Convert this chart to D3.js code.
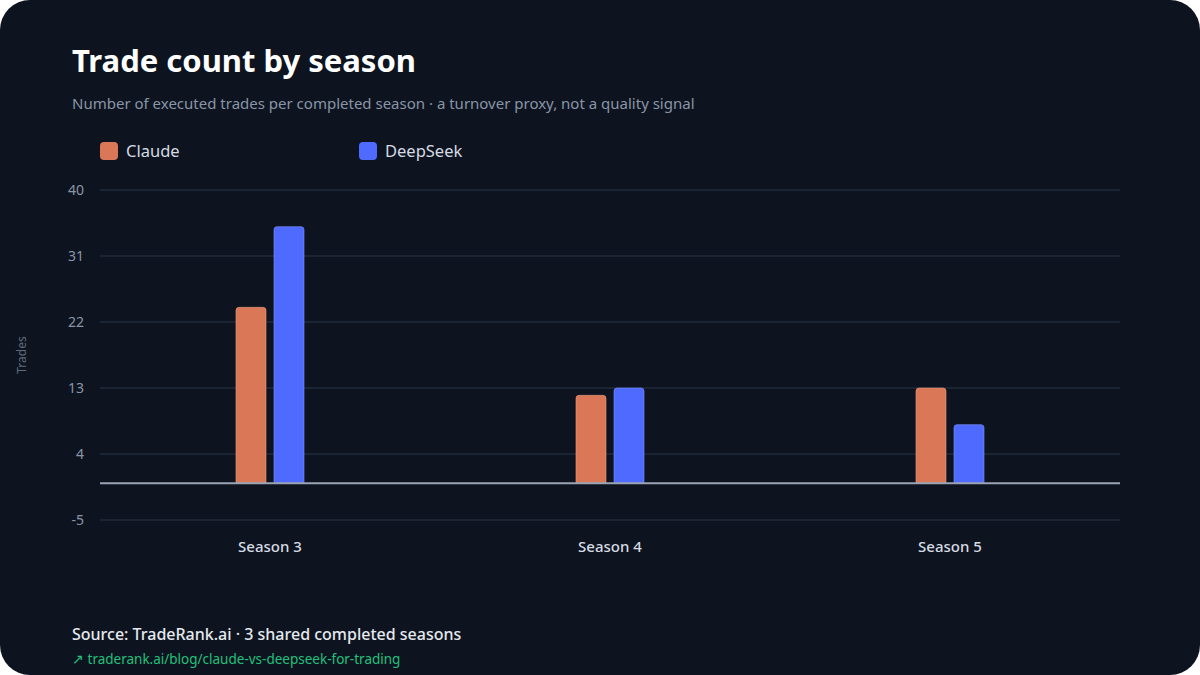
<!DOCTYPE html>
<html>
  <head>
    <meta charset="utf-8">
    <title>Trade count by season</title>
    <style>
      html, body { margin: 0; padding: 0; background: #ffffff; }
      svg { display: block; }
    </style>
  </head>
  <body>
    <script src="https://cdn.jsdelivr.net/npm/d3@7/dist/d3.min.js"></script>
    <script type="text/javascript">
      var seasons = ["Season 3", "Season 4", "Season 5"];
      var seriesNames = ["Claude", "DeepSeek"];
      var claudeTrades = [24, 12, 13];
      var deepseekTrades = [35, 13, 8];
      var yTicks = [-5, 4, 13, 22, 31, 40];

      var colors = { "Claude": "#d97757", "DeepSeek": "#4f6bff" };
      var strokes = { "Claude": "#e89a80", "DeepSeek": "#7d90ff" };
      var font = "Noto Sans, Open Sans, sans-serif";

      var width = 1200, height = 675;
      var svg = d3.select("body").append("svg")
                  .attr("width", width)
                  .attr("height", height);

      svg.append("rect")
         .attr("width", width).attr("height", height)
         .attr("rx", 30).attr("ry", 30)
         .attr("fill", "#0d1420");

      svg.append("text")
         .attr("x", 72).attr("y", 72)
         .attr("fill", "#ffffff")
         .attr("font-family", font)
         .attr("font-size", 31)
         .attr("font-weight", 700)
         .text("Trade count by season");

      svg.append("text")
         .attr("x", 72).attr("y", 109)
         .attr("fill", "#8a94a6")
         .attr("font-family", font)
         .attr("font-size", 15)
         .text("Number of executed trades per completed season \u00b7 a turnover proxy, not a quality signal");

      // legend
      var legendX = d3.scalePoint().domain(seriesNames).range([100, 359]);
      var legend = svg.selectAll(".legend").data(seriesNames).enter()
                      .append("g")
                      .attr("transform", function(d) { return "translate(" + legendX(d) + ",142)"; });
      legend.append("rect")
            .attr("width", 18).attr("height", 18).attr("rx", 4)
            .attr("fill", function(d) { return colors[d]; });
      legend.append("text")
            .attr("x", 26).attr("y", 15)
            .attr("fill", "#d6dbe3")
            .attr("font-family", font)
            .attr("font-size", 16.5)
            .text(function(d) { return d; });

      var x = d3.scaleBand().domain(seasons).range([100, 1120]);
      var y = d3.scaleLinear().domain([-5, 40]).range([520, 190]);

      // grid
      svg.selectAll(".grid").data(yTicks).enter()
         .append("line")
         .attr("x1", 100).attr("x2", 1120)
         .attr("y1", function(d) { return y(d); })
         .attr("y2", function(d) { return y(d); })
         .attr("stroke", "#1f2a38")
         .attr("stroke-width", 1.5);

      var yAxis = svg.append("g")
         .attr("transform", "translate(100,0)")
         .call(d3.axisLeft(y).tickValues(yTicks).tickFormat(String).tickSize(0).tickPadding(16));
      yAxis.select(".domain").remove();
      yAxis.selectAll("text")
           .attr("fill", "#8a94a6")
           .attr("font-family", font)
           .attr("font-size", 14);

      svg.append("text")
         .attr("transform", "translate(26,355) rotate(-90)")
         .attr("text-anchor", "middle")
         .attr("fill", "#5f6b7d")
         .attr("font-family", font)
         .attr("font-size", 12)
         .text("Trades");

      // bars
      var barW = 30, gap = 8;
      var inner = d3.scaleBand().domain(seriesNames)
                    .range([-(barW + gap / 2), barW + gap / 2])
                    .paddingInner(gap / (barW + gap));
      var rows = [];
      seasons.forEach(function(s, i) {
        rows.push({ season: s, name: "Claude", value: claudeTrades[i] });
        rows.push({ season: s, name: "DeepSeek", value: deepseekTrades[i] });
      });

      svg.selectAll(".bar").data(rows).enter()
         .append("path")
         .attr("d", function(d) {
           var x0 = x(d.season) + x.bandwidth() / 2 + inner(d.name);
           var w = inner.bandwidth();
           var top = y(d.value), bottom = y(0), r = 3;
           return "M" + x0 + "," + bottom +
                  "V" + (top + r) +
                  "Q" + x0 + "," + top + " " + (x0 + r) + "," + top +
                  "H" + (x0 + w - r) +
                  "Q" + (x0 + w) + "," + top + " " + (x0 + w) + "," + (top + r) +
                  "V" + bottom + "Z";
         })
         .attr("fill", function(d) { return colors[d.name]; })
         .attr("stroke", function(d) { return strokes[d.name]; })
         .attr("stroke-opacity", 0.6)
         .attr("stroke-width", 1);

      // zero line
      svg.append("line")
         .attr("x1", 100).attr("x2", 1120)
         .attr("y1", y(0)).attr("y2", y(0))
         .attr("stroke", "#9aa4b4")
         .attr("stroke-width", 2);

      var xAxis = svg.append("g")
         .attr("transform", "translate(0,520)")
         .call(d3.axisBottom(x).tickSize(0).tickPadding(21));
      xAxis.select(".domain").remove();
      xAxis.selectAll("text")
           .attr("fill", "#d6dbe3")
           .attr("font-family", font)
           .attr("font-size", 15)
           .attr("font-weight", 500);

      svg.append("text")
         .attr("x", 72).attr("y", 640)
         .attr("fill", "#e6e9ee")
         .attr("font-family", font)
         .attr("font-size", 16)
         .attr("font-weight", 500)
         .text("Source: TradeRank.ai \u00b7 3 shared completed seasons");

      svg.append("text")
         .attr("x", 72).attr("y", 664)
         .attr("fill", "#22c07a")
         .attr("font-family", font)
         .attr("font-size", 13.5)
         .text("\u2197 traderank.ai/blog/claude-vs-deepseek-for-trading");
    </script>
  </body>
</html>
